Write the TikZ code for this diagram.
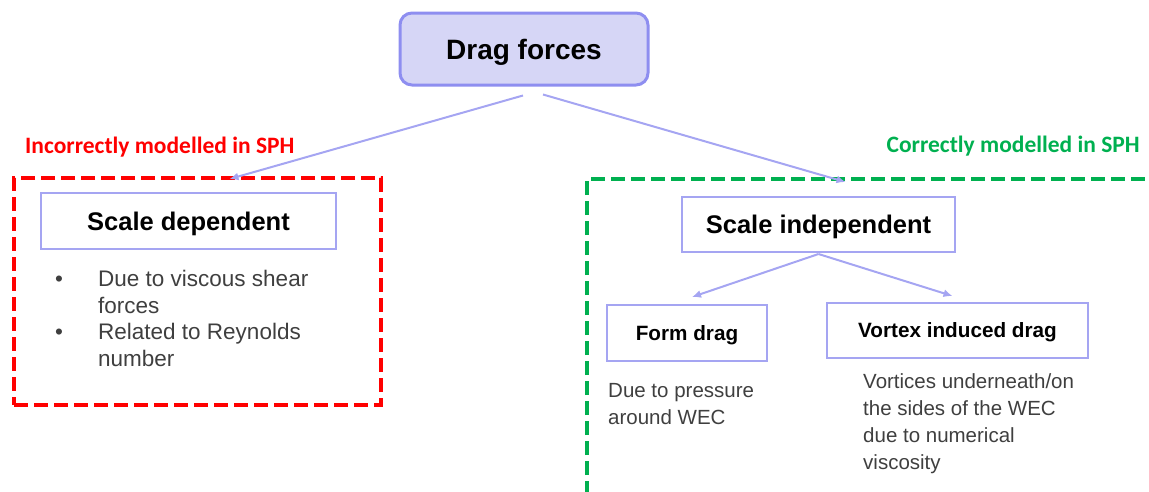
\documentclass[tikz,border=0pt]{standalone}
\usepackage{fontspec}
\setmainfont{Liberation Sans}
\newfontfamily\calibfont{Carlito}
\usetikzlibrary{arrows.meta}
\definecolor{lav}{HTML}{A5A5F2}
\definecolor{lavfill}{HTML}{D6D6F6}
\definecolor{lavdark}{HTML}{8E8EF0}
\definecolor{txtgray}{HTML}{3F3F3F}
\definecolor{sphred}{HTML}{FF0000}
\definecolor{sphgreen}{HTML}{00B050}
\begin{document}
\begin{tikzpicture}[x=1pt,y=-1pt,
  box/.style={draw=lav, line width=2pt, fill=white, inner sep=0pt, text height=18.3pt, text depth=0pt,
    font=\bfseries\fontsize{25.5}{30}\selectfont},
  smallbox/.style={box, text height=14.9pt, font=\bfseries\fontsize{20.7}{25}\selectfont},
  link/.style={draw=lav, line width=2pt, -{Latex[length=9pt,width=8pt]}},
  body/.style={anchor=base west, align=left, inner sep=0pt, text=txtgray, font=\fontsize{22.5}{26.7}\selectfont},
  bodysm/.style={body, font=\fontsize{20.5}{27}\selectfont},
  label/.style={inner sep=0pt, font=\calibfont\bfseries\fontsize{23.5}{28}\selectfont},
  reddash/.style={draw=sphred, line width=4pt, dash pattern=on 14pt off 6pt},
  greendash/.style={draw=sphgreen, line width=4pt, dash pattern=on 14pt off 6pt}]
\useasboundingbox (0,0) rectangle (1149,491);

% top node
\node[box, rounded corners=12pt, fill=lavfill, draw=lavdark, line width=3pt,
  minimum width=248pt, minimum height=72pt, text height=20pt,
  font=\bfseries\fontsize{28}{32}\selectfont] (drag) at (524,49) {Drag forces};

% left group
\node[reddash, minimum width=367pt, minimum height=227pt, inner sep=0pt] (redbox) at (197.5,291.5) {};
\node[label, text=sphred, anchor=base west] (redlab) at (25,153) {Incorrectly modelled in SPH};
\node[box, minimum width=295pt, minimum height=56pt] (sdep) at (188.5,221) {Scale dependent};
\node[body] (bul1) at (55,286) {•};
\node[body] (bul2) at (55,339) {•};
\node[body] (b1) at (98,313) {Due to viscous shear\\forces};
\node[body] (b2) at (98,366) {Related to Reynolds\\number};

% right group
\coordinate (g1) at (587,495);
\coordinate (g2) at (587,179);
\coordinate (g3) at (1155,179);
\draw[greendash] (g1) -- (g2) -- (g3);
\node[label, text=sphgreen, anchor=base east] (greenlab) at (1140,152) {Correctly modelled in SPH};
\node[box, minimum width=273pt, minimum height=55pt] (sind) at (818.5,224.5) {Scale independent};
\node[smallbox, minimum width=160pt, minimum height=56pt] (form) at (687,333) {Form drag};
\node[smallbox, minimum width=261pt, minimum height=55pt] (vort) at (957.5,330.5) {Vortex induced drag};
\node[bodysm] (ftxt) at (608,424) {Due to pressure\\around WEC};
\node[bodysm] (vtxt) at (863,469) {Vortices underneath/on\\the sides of the WEC\\due to numerical\\viscosity};

% connectors
\coordinate (s1) at ([xshift=-1pt,yshift=-9pt]drag.south);
\coordinate (s2) at ([xshift=19pt,yshift=-8pt]drag.south);
\coordinate (e1) at ([xshift=32pt,yshift=-3pt]redbox.north);
\coordinate (e2) at ([xshift=27pt,yshift=14pt]sind.north);
\draw[link] (s1) -- (e1);
\draw[link] (s2) -- (e2);
\coordinate (s3) at ([yshift=-1pt]sind.south);
\coordinate (e3) at ([xshift=5pt,yshift=7pt]form.north);
\coordinate (e4) at ([xshift=-5pt,yshift=6pt]vort.north);
\draw[link] (s3) -- (e3);
\draw[link] (s3) -- (e4);
\end{tikzpicture}
\end{document}
